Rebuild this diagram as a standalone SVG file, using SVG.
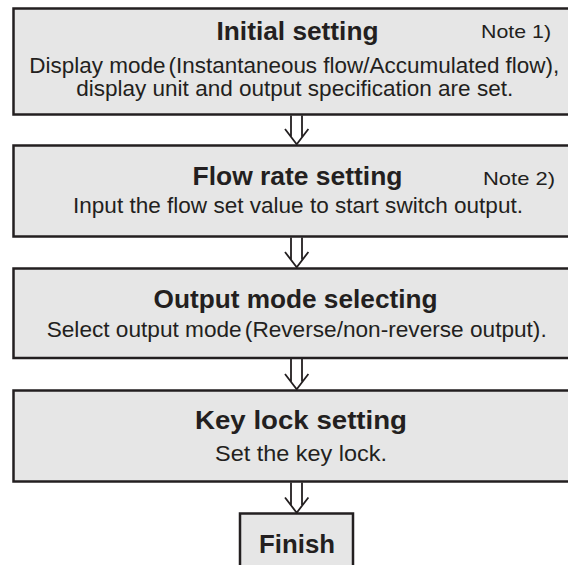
<svg xmlns="http://www.w3.org/2000/svg" width="568" height="565" viewBox="0 0 568 565">
<style>
.box{fill:#e6e6e6;stroke:#231f20;stroke-width:2.5}
.t{font-family:"Liberation Sans",Arial,sans-serif;font-weight:bold;font-size:25px;fill:#231f20;text-anchor:middle}
.b{font-family:"Liberation Sans",Arial,sans-serif;font-size:21.5px;fill:#231f20;text-anchor:middle}
.n{font-family:"Liberation Sans",Arial,sans-serif;font-size:19px;fill:#231f20;text-anchor:start}
.c{fill:none;stroke:#231f20;stroke-width:1.8}
</style>
<rect width="568" height="565" fill="#ffffff"/>
<g id="initial">
<rect class="box" x="13.5" y="8.5" width="567" height="106"/>
<text class="t" x="297.5" y="40" textLength="162" lengthAdjust="spacingAndGlyphs">Initial setting</text>
<text class="n" x="481" y="38" textLength="70" lengthAdjust="spacingAndGlyphs">Note 1)</text>
<text class="b" x="294.3" y="72.7" textLength="530" lengthAdjust="spacingAndGlyphs">Display mode<tspan dx="3">(Instantaneous flow/Accumulated flow),</tspan></text>
<text class="b" x="294.7" y="95.5" textLength="437" lengthAdjust="spacingAndGlyphs">display unit and output specification are set.</text>
</g>
<g id="flow">
<rect class="box" x="13.5" y="145.5" width="567" height="91"/>
<text class="t" x="297.5" y="185" textLength="210" lengthAdjust="spacingAndGlyphs">Flow rate setting</text>
<text class="n" x="483" y="185" textLength="72" lengthAdjust="spacingAndGlyphs">Note 2)</text>
<text class="b" x="298" y="213" textLength="450" lengthAdjust="spacingAndGlyphs">Input the flow set value to start switch output.</text>
</g>
<g id="output">
<rect class="box" x="13.5" y="268.5" width="567" height="89.5"/>
<text class="t" x="295.5" y="308" textLength="284" lengthAdjust="spacingAndGlyphs">Output mode selecting</text>
<text class="b" x="296.7" y="336.5" textLength="500" lengthAdjust="spacingAndGlyphs">Select output mode<tspan dx="3">(Reverse/non-reverse output).</tspan></text>
</g>
<g id="keylock">
<rect class="box" x="13.5" y="390.5" width="567" height="91"/>
<text class="t" x="301" y="429" textLength="212" lengthAdjust="spacingAndGlyphs">Key lock setting</text>
<text class="b" x="301" y="460.5" textLength="172" lengthAdjust="spacingAndGlyphs">Set the key lock.</text>
</g>
<g id="finish">
<rect class="box" x="240" y="513.5" width="113" height="70"/>
<text class="t" x="297" y="553" textLength="76" lengthAdjust="spacingAndGlyphs">Finish</text>
</g>
<g id="connectors">
<path class="c" d="M291,115.5 V137 M302,115.5 V137 M285,129 L296.7,144.2 L308.4,129"/>
<path class="c" d="M291,237.5 V259.5 M302,237.5 V259.5 M285,252 L296.7,267.2 L308.4,252"/>
<path class="c" d="M291,359 V381.5 M302,359 V381.5 M285,374 L296.7,389.2 L308.4,374"/>
<path class="c" d="M291,482.5 V505 M302,482.5 V505 M285,497.5 L296.7,512.7 L308.4,497.5"/>
</g>
</svg>
